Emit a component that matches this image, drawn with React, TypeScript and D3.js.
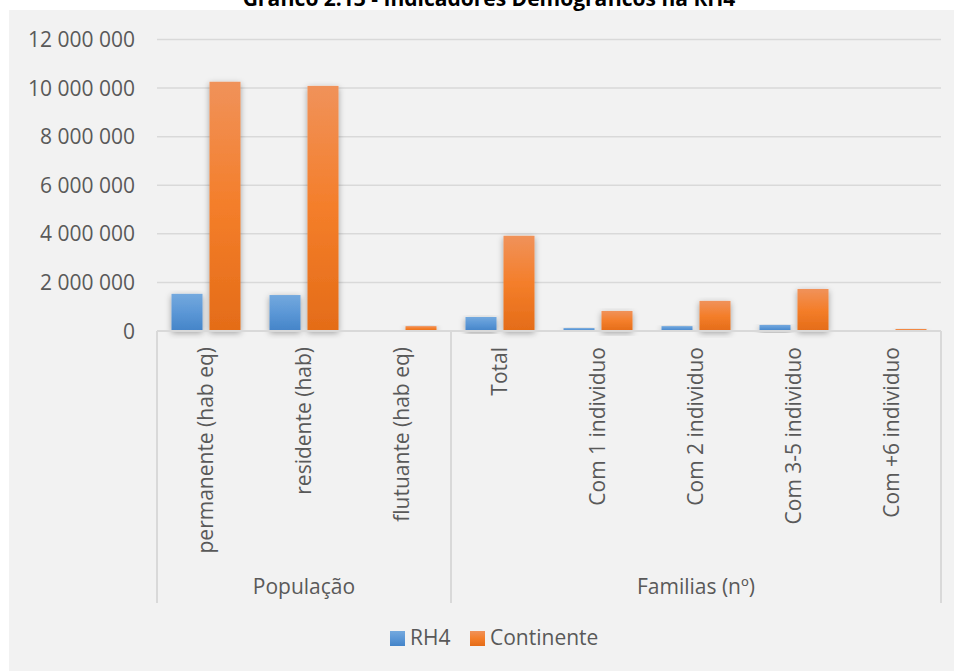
import React from "react";
import * as d3 from "d3";

const categories = [
  "permanente (hab eq)",
  "residente (hab)",
  "flutuante (hab eq)",
  "Total",
  "Com 1 individuo",
  "Com 2 individuo",
  "Com 3-5 individuo",
  "Com +6 individuo",
];
const groups = [
  { name: "População", count: 3 },
  { name: "Familias (nº)", count: 5 },
];
const seriesNames = ["RH4", "Continente"];
const rh4 = [1530000, 1480000, 20000, 577000, 120000, 200000, 250000, 10000];
const continente = [10260000, 10090000, 200000, 3920000, 825000, 1240000, 1730000, 82000];
const yTicks = [0, 2000000, 4000000, 6000000, 8000000, 10000000, 12000000];
const title = "Gráfico 2.13 - Indicadores Demográficos na RH4";

const W = 954;
const H = 671;
const FONT = "'Open Sans', sans-serif";

export default function App() {
  const left = 157;
  const right = 941;
  const top = 39.5;
  const bottom = 331;

  const x = d3.scaleBand<string>().domain(categories).range([left, right]).padding(0);
  const x1 = d3
    .scaleBand<string>()
    .domain(seriesNames)
    .range([0, x.bandwidth()])
    .paddingInner(0.184)
    .paddingOuter(0.3816);
  const y = d3.scaleLinear().domain([0, 12000000]).range([bottom, top]);
  const fmt = (v: number) => d3.format(",")(v).replace(/,/g, " ");

  const seriesData = [rh4, continente];
  const fills = ["url(#gBlue)", "url(#gOrange)"];

  let acc = 0;
  const groupPos = groups.map((g) => {
    const start = left + acc * x.step();
    acc += g.count;
    const end = left + acc * x.step();
    return { ...g, start, end };
  });
  const seps = [left, ...groupPos.map((g) => g.end)];

  return (
    <div style={{ position: "absolute", left: 0, top: 0 }}>
      <svg width={W} height={H} style={{ display: "block" }}>
        <defs>
          <linearGradient id="gBlue" x1="0" y1="0" x2="0" y2="1">
            <stop offset="0" stopColor="#74A9DE" />
            <stop offset="0.5" stopColor="#5B97D6" />
            <stop offset="1" stopColor="#4484C8" />
          </linearGradient>
          <linearGradient id="gOrange" x1="0" y1="0" x2="0" y2="1">
            <stop offset="0" stopColor="#F0925A" />
            <stop offset="0.5" stopColor="#F47E2A" />
            <stop offset="1" stopColor="#E46C18" />
          </linearGradient>
          <filter id="shadow" x="-30%" y="-10%" width="160%" height="130%">
            <feDropShadow dx="0" dy="2" stdDeviation="3" floodColor="#000" floodOpacity="0.35" />
          </filter>
        </defs>
        <rect x={0} y={0} width={W} height={H} fill="#ffffff" />
        <rect x={9} y={10} width={W - 9} height={H - 10} fill="#F2F2F2" />
        <text
          x={489}
          y={6}
          textAnchor="middle"
          fontFamily={FONT}
          fontWeight="bold"
          fontSize={21}
          fill="#000"
        >
          {title}
        </text>

        {yTicks.map((t) => (
          <g key={t}>
            {t > 0 && (
              <line x1={left} x2={right} y1={y(t)} y2={y(t)} stroke="#D9D9D9" strokeWidth={1.5} />
            )}
            <text
              x={135}
              y={y(t)}
              dy="0.36em"
              textAnchor="end"
              fontFamily={FONT}
              fontSize={21}
              fill="#595959"
            >
              {fmt(t)}
            </text>
          </g>
        ))}

        {seriesData.map((vals, si) =>
          categories.map((c, i) => {
            const bx = (x(c) as number) + (x1(seriesNames[si]) as number);
            const by = y(vals[i]);
            return (
              <rect
                key={si + "-" + i}
                x={bx}
                y={by}
                width={x1.bandwidth()}
                height={bottom - by}
                fill={fills[si]}
                filter="url(#shadow)"
              />
            );
          })
        )}

        <line x1={left} x2={right} y1={bottom} y2={bottom} stroke="#D9D9D9" strokeWidth={2} />
        {seps.map((sx, i) => (
          <line key={i} x1={sx} x2={sx} y1={bottom} y2={603} stroke="#D9D9D9" strokeWidth={2} />
        ))}

        {categories.map((c) => {
          const cx = (x(c) as number) + x.bandwidth() / 2;
          return (
            <text
              key={c}
              transform={`translate(${cx - 1},${347}) rotate(-90)`}
              textAnchor="end"
              dy="0.36em"
              fontFamily={FONT}
              fontSize={21}
              fill="#595959"
            >
              {c}
            </text>
          );
        })}

        {groupPos.map((g) => (
          <text
            key={g.name}
            x={(g.start + g.end) / 2}
            y={594}
            textAnchor="middle"
            fontFamily={FONT}
            fontSize={21}
            fill="#595959"
          >
            {g.name}
          </text>
        ))}

        <g>
          <rect x={390} y={631} width={15} height={15} fill="url(#gBlue)" />
          <text x={410} y={645} fontFamily={FONT} fontSize={21} fill="#595959">
            {seriesNames[0]}
          </text>
          <rect x={470} y={631} width={15} height={15} fill="url(#gOrange)" />
          <text x={490} y={645} fontFamily={FONT} fontSize={21} fill="#595959">
            {seriesNames[1]}
          </text>
        </g>
      </svg>
    </div>
  );
}
